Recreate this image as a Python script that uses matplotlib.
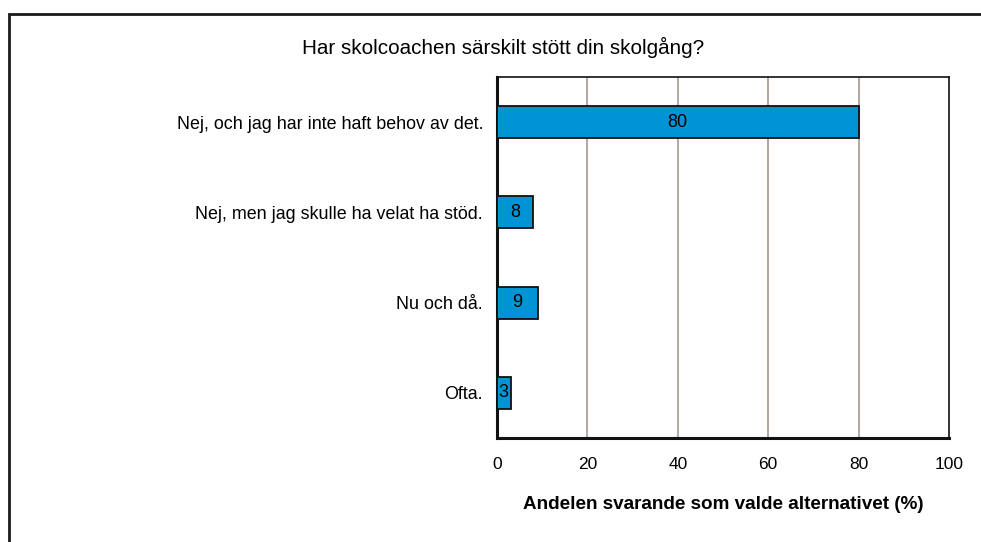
import matplotlib.pyplot as plt
from matplotlib.patches import Rectangle

plt.rcParams['font.family'] = ['Liberation Sans', 'DejaVu Sans']

# data
categories = ["Nej, och jag har inte haft behov av det.",
              "Nej, men jag skulle ha velat ha stöd.",
              "Nu och då.",
              "Ofta."]
values = [80, 8, 9, 3]
xticks = [0, 20, 40, 60, 80, 100]

fig = plt.figure(figsize=(9.81, 5.42), dpi=100)
W, H = 981, 542
ax = fig.add_axes([497 / W, 1 - 438 / H, (949 - 497) / W, (438 - 77) / H])

# outer frame (only left/top inside the image)
fig.patches.append(Rectangle((8.5 / W, -0.1), 1.2, 1 - 13.5 / H + 0.1,
                             transform=fig.transFigure, fill=False,
                             edgecolor='#1a1a1a', linewidth=2))

ypos = list(range(len(categories)))
bars = ax.barh(ypos, values, height=0.355, color='#0094D4',
               edgecolor='#111111', linewidth=1.3, zorder=3)
for rect, v in zip(bars, values):
    ax.text(rect.get_x() + rect.get_width() / 2, rect.get_y() + rect.get_height() / 2,
            str(v), ha='center', va='center', fontsize=13, zorder=4)

ax.set_xlim(0, 100)
ax.set_ylim(len(categories) - 0.5, -0.5)
ax.set_yticks(ypos)
ax.set_yticklabels(categories, fontsize=12.9)
ax.set_xticks(xticks)
ax.set_xticklabels([str(t) for t in xticks], fontsize=12.5)
ax.tick_params(axis='both', length=0)
ax.tick_params(axis='y', pad=10)
ax.tick_params(axis='x', pad=14)

for x in xticks[1:-1]:
    ax.axvline(x, color='#B4ACA4', linewidth=1.5, zorder=1)

ax.spines['left'].set_linewidth(2.2)
ax.spines['bottom'].set_linewidth(2.2)
ax.spines['top'].set_linewidth(1.2)
ax.spines['right'].set_linewidth(1.2)
for s in ax.spines.values():
    s.set_color('#111111')

ax.set_xlabel("Andelen svarande som valde alternativet (%)", fontsize=13.6,
              fontweight='bold', labelpad=17)
fig.text(503 / W, 1 - 47 / H, "Har skolcoachen särskilt stött din skolgång?",
         ha='center', va='center', fontsize=14.9)

fig.savefig('out.png', dpi=100)
